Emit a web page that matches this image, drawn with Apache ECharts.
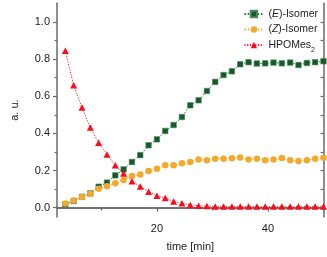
<!DOCTYPE html>
<html>
<head>
<meta charset="utf-8">
<script src="https://cdn.jsdelivr.net/npm/echarts@6/dist/echarts.min.js"></script>
<style>html,body{margin:0;padding:0;background:#fff}#c{width:327px;height:257px}</style>
</head>
<body>
<div id="c"></div>
<script>
var times = [3.5, 5, 6.5, 8, 9.5, 11, 12.5, 14, 15.5, 17, 18.5, 20, 21.5, 23, 24.5, 26,
  27.5, 29, 30.5, 32, 33.5, 35, 36.5, 38, 39.5, 41, 42.5, 44, 45.5, 47, 48.5, 50];
var eIsomer = [0.018, 0.036, 0.059, 0.077, 0.113, 0.135, 0.174, 0.206, 0.246, 0.283, 0.336, 0.368,
  0.413, 0.445, 0.488, 0.551, 0.578, 0.628, 0.677, 0.714, 0.734, 0.772, 0.783, 0.776,
  0.777, 0.781, 0.777, 0.781, 0.768, 0.779, 0.783, 0.788];
var zIsomer = [0.023, 0.039, 0.057, 0.075, 0.102, 0.116, 0.131, 0.149, 0.170, 0.179, 0.197, 0.210,
  0.228, 0.228, 0.239, 0.246, 0.260, 0.256, 0.264, 0.264, 0.266, 0.270, 0.260, 0.264,
  0.256, 0.259, 0.267, 0.255, 0.251, 0.256, 0.264, 0.269];
var hpoMes2 = [0.844, 0.659, 0.539, 0.431, 0.350, 0.287, 0.228, 0.184, 0.142, 0.114, 0.086, 0.065,
  0.052, 0.033, 0.024, 0.015, 0.011, 0.009, 0.007, 0.007, 0.006, 0.006, 0.006, 0.006,
  0.006, 0.006, 0.006, 0.006, 0.006, 0.006, 0.006, 0.006];
var xMajorTicks = [20, 40];
var xMinorTicks = [10, 30, 50];
var xTopTicks = [10, 20, 30, 40, 50];
var yMajorTicks = [0, 0.2, 0.4, 0.6, 0.8, 1.0];
var yMinorTicks = [0.1, 0.3, 0.5, 0.7, 0.9];
var yRightTicks = [0, 0.1, 0.2, 0.3, 0.4, 0.5, 0.6, 0.7, 0.8, 0.9, 1.0];
var seriesNames = ['(E)-Isomer', '(Z)-Isomer', 'HPOMes2'];

function pairs(ys) { return times.map(function (t, i) { return [t, ys[i]]; }); }

var axisColor = '#6a6a6a';
var font = 'Liberation Sans, Arial, sans-serif';
var lineAx = { show: true, lineStyle: { color: axisColor, width: 1.5 } };

var chart = echarts.init(document.getElementById('c'), null, { renderer: 'canvas' });
chart.setOption({
  animation: false,
  backgroundColor: '#fff',
  grid: { left: 57, right: 3.5, top: 3.3, bottom: 38.7, containLabel: false },
  legend: {
    orient: 'vertical', right: 9, top: 8, padding: 0,
    itemWidth: 19, itemHeight: 8, itemGap: 3.5,
    data: seriesNames,
    formatter: function (n) {
      if (n === '(E)-Isomer') return '({i|E})-Isomer';
      if (n === '(Z)-Isomer') return '({i|Z})-Isomer';
      return 'HPOMes{sub|2}';
    },
    textStyle: {
      fontFamily: font, fontSize: 10.5, color: '#222', lineHeight: 12,
      rich: {
        i: { fontStyle: 'italic', fontFamily: font, fontSize: 10.5, color: '#222' },
        sub: { fontSize: 7, fontFamily: font, color: '#222', verticalAlign: 'bottom', lineHeight: 7, padding: [0, 0, -3, 0] }
      }
    }
  },
  xAxis: [
    {
      type: 'value', min: 2, max: 50, position: 'bottom',
      name: 'time [min]', nameLocation: 'middle', nameGap: 24,
      nameTextStyle: { fontFamily: font, fontSize: 11, color: '#222' },
      axisLine: lineAx, splitLine: { show: false },
      axisTick: { show: true, inside: false, length: 4, customValues: xMajorTicks, lineStyle: { color: axisColor, width: 1.2 } },
      axisLabel: { show: true, customValues: xMajorTicks, margin: 6, fontFamily: font, fontSize: 11, color: '#222' }
    },
    {
      type: 'value', min: 2, max: 50, position: 'bottom',
      axisLine: { show: false }, splitLine: { show: false },
      axisTick: { show: true, inside: false, length: 2.5, customValues: xMinorTicks, lineStyle: { color: axisColor, width: 1.2 } },
      axisLabel: { show: false }
    },
    {
      type: 'value', min: 2, max: 50, position: 'top',
      axisLine: lineAx, splitLine: { show: false },
      axisTick: { show: true, inside: true, length: 2.5, customValues: xTopTicks, lineStyle: { color: axisColor, width: 1.2 } },
      axisLabel: { show: false }
    }
  ],
  yAxis: [
    {
      type: 'value', min: -0.05, max: 1.1, position: 'left',
      name: 'a. u.', nameLocation: 'middle', nameGap: 37, nameRotate: 90,
      nameTextStyle: { fontFamily: font, fontSize: 11, color: '#222' },
      axisLine: lineAx, splitLine: { show: false },
      axisTick: { show: true, inside: false, length: 4, customValues: yMajorTicks, lineStyle: { color: axisColor, width: 1.2 } },
      axisLabel: {
        show: true, customValues: yMajorTicks, margin: 7, fontFamily: font, fontSize: 11, color: '#222',
        formatter: function (v) { return v.toFixed(1); }
      }
    },
    {
      type: 'value', min: -0.05, max: 1.1, position: 'left', offset: 0,
      axisLine: { show: false }, splitLine: { show: false },
      axisTick: { show: true, inside: false, length: 2.5, customValues: yMinorTicks, lineStyle: { color: axisColor, width: 1.2 } },
      axisLabel: { show: false }
    },
    {
      type: 'value', min: -0.05, max: 1.1, position: 'right', offset: 0,
      axisLine: lineAx, splitLine: { show: false },
      axisTick: { show: true, inside: true, length: 3, customValues: yRightTicks, lineStyle: { color: axisColor, width: 1.2 } },
      axisLabel: { show: false }
    }
  ],
  series: [
    {
      name: seriesNames[0], type: 'line', data: pairs(eIsomer),
      symbol: 'rect', symbolSize: 5.5,
      itemStyle: { color: '#145a2b', borderColor: '#4f8a5e', borderWidth: 0.6 },
      lineStyle: { color: '#2e6e3f', width: 1, type: [1.5, 1.8] }
    },
    {
      name: seriesNames[1], type: 'line', data: pairs(zIsomer),
      symbol: 'circle', symbolSize: 6.5,
      itemStyle: { color: '#f4a92a' },
      lineStyle: { color: '#f4a92a', width: 1, type: [1.5, 1.8] }
    },
    {
      name: seriesNames[2], type: 'line', data: pairs(hpoMes2),
      symbol: 'triangle', symbolSize: [7, 6.5],
      itemStyle: { color: '#ff0a1a' },
      lineStyle: { color: '#ff2030', width: 1, type: [1.2, 1.5] }
    }
  ]
});
</script>
</body>
</html>
